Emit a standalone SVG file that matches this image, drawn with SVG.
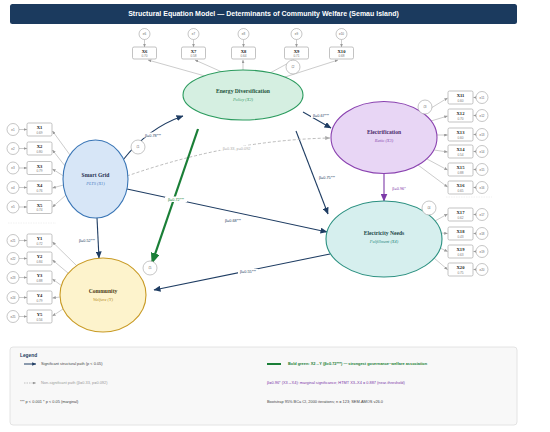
<svg xmlns="http://www.w3.org/2000/svg" width="550" height="432" viewBox="0 0 550 432">
<style>
.ind rect{fill:#fff;stroke:#9a9a9a;stroke-width:0.6}
.il{font-family:"Liberation Serif",serif;font-weight:bold;font-size:4.6px;fill:#222;text-anchor:middle}
.iv{font-family:"Liberation Sans",sans-serif;font-size:3.2px;fill:#777;text-anchor:middle}
.err circle{fill:#fff;stroke:#a0a0a0;stroke-width:0.6}
.el{font-family:"Liberation Sans",sans-serif;font-size:3px;fill:#666;text-anchor:middle}
.meas{stroke:#aaaaaa;stroke-width:0.6;fill:none;marker-end:url(#ag)}
.nl{font-family:"Liberation Serif",serif;font-weight:bold;font-size:5.6px;text-anchor:middle}
.ns{font-family:"Liberation Serif",serif;font-style:italic;font-size:4.4px;text-anchor:middle}
.sp{stroke:#1f3d63;stroke-width:1.1;fill:none;marker-end:url(#an)}
.pl{font-family:"Liberation Sans",sans-serif;font-size:3.8px;fill:#1f3d63;text-anchor:middle}
.lg{font-family:"Liberation Sans",sans-serif;font-size:3.9px}
.zeta circle{fill:#fff;stroke:#a0a0a0;stroke-width:0.6}
</style>
<defs>
<marker id="an" markerUnits="userSpaceOnUse" markerWidth="7" markerHeight="6" refX="6.5" refY="3" orient="auto"><path d="M0,0 L7,3 L0,6 z" fill="#1f3d63"/></marker>
<marker id="agr" markerUnits="userSpaceOnUse" markerWidth="11" markerHeight="9" refX="10" refY="4.5" orient="auto"><path d="M0,0 L11,4.5 L0,9 z" fill="#1a7f37"/></marker>
<marker id="ap" markerUnits="userSpaceOnUse" markerWidth="8" markerHeight="7" refX="7.5" refY="3.5" orient="auto"><path d="M0,0 L8,3.5 L0,7 z" fill="#7d3aa8"/></marker>
<marker id="ag" markerUnits="userSpaceOnUse" markerWidth="3.5" markerHeight="3" refX="3.3" refY="1.5" orient="auto"><path d="M0,0 L3.5,1.5 L0,3 z" fill="#999"/></marker>
<marker id="agd" markerUnits="userSpaceOnUse" markerWidth="5" markerHeight="4" refX="4.8" refY="2" orient="auto"><path d="M0,0 L5,2 L0,4 z" fill="#aaa"/></marker>
<marker id="anl" markerUnits="userSpaceOnUse" markerWidth="4" markerHeight="3.4" refX="3.8" refY="1.7" orient="auto"><path d="M0,0 L4,1.7 L0,3.4 z" fill="#1f3d63"/></marker>
</defs>

<rect x="0" y="0" width="550" height="432" fill="#ffffff"/>

<g id="title">
<rect x="10" y="4" width="507" height="20" rx="2.5" fill="#1b3a5e"/>
<text x="263.5" y="16.4" font-family="Liberation Sans,sans-serif" font-weight="bold" font-size="7" fill="#ffffff" text-anchor="middle">Structural Equation Model — Determinants of Community Welfare (Semau Island)</text>
</g>

<g id="dividers" stroke="#e2e2e2" stroke-width="0.5" stroke-dasharray="1.5,1">
<line x1="8" y1="223" x2="56" y2="223"/>
<line x1="446" y1="197" x2="492" y2="197"/>
</g>

<g id="measurement">
<path class="meas" d="M205,76 L148,60"/>
<path class="meas" d="M222,72 L195,60"/>
<path class="meas" d="M243,70 L243,60"/>
<path class="meas" d="M270,73 L294,60"/>
<path class="meas" d="M285,77 L338,60"/>
<path class="meas" d="M70,155 L52.5,131"/>
<path class="meas" d="M65,166 L52.5,150"/>
<path class="meas" d="M63.5,176 L52.5,169"/>
<path class="meas" d="M63.5,185 L52.5,188"/>
<path class="meas" d="M66,195 L52.5,207"/>
<path class="meas" d="M77,266 L52.5,242"/>
<path class="meas" d="M68,273 L52.5,260"/>
<path class="meas" d="M62,286 L52.5,279"/>
<path class="meas" d="M60,297 L52.5,298"/>
<path class="meas" d="M63,309 L52.5,316"/>
<path class="meas" d="M423,113 L447.5,98"/>
<path class="meas" d="M431,121 L447.5,116"/>
<path class="meas" d="M437,135 L447.5,135"/>
<path class="meas" d="M434,150 L447.5,152"/>
<path class="meas" d="M427,159 L447.5,170"/>
<path class="meas" d="M418,165 L447.5,187"/>
<path class="meas" d="M435,221 L447.5,214"/>
<path class="meas" d="M441,233 L447.5,233.5"/>
<path class="meas" d="M440,248 L447.5,251.5"/>
<path class="meas" d="M434,258 L447.5,269.5"/>
<path class="meas" d="M144.5,39.5 L144.5,47"/>
<path class="meas" d="M193.5,39.5 L193.5,47"/>
<path class="meas" d="M243.5,39.5 L243.5,47"/>
<path class="meas" d="M296.5,39.5 L296.5,47"/>
<path class="meas" d="M341.5,39.5 L341.5,47"/>
<path class="meas" d="M19,129.5 L27,129.5"/>
<path class="meas" d="M19,148.5 L27,148.5"/>
<path class="meas" d="M19,168 L27,168"/>
<path class="meas" d="M19,187.5 L27,187.5"/>
<path class="meas" d="M19,207 L27,207"/>
<path class="meas" d="M19,240.5 L27,240.5"/>
<path class="meas" d="M19,258.5 L27,258.5"/>
<path class="meas" d="M19,277.5 L27,277.5"/>
<path class="meas" d="M19,297.5 L27,297.5"/>
<path class="meas" d="M19,316.5 L27,316.5"/>
<path class="meas" d="M476,97.5 L473.5,97.5"/>
<path class="meas" d="M476,115.5 L473.5,115.5"/>
<path class="meas" d="M476,134.5 L473.5,134.5"/>
<path class="meas" d="M476,151.5 L473.5,151.5"/>
<path class="meas" d="M476,169.5 L473.5,169.5"/>
<path class="meas" d="M476,187.5 L473.5,187.5"/>
<path class="meas" d="M476,214.5 L473.5,214.5"/>
<path class="meas" d="M476,233.5 L473.5,233.5"/>
<path class="meas" d="M476,251.5 L473.5,251.5"/>
<path class="meas" d="M476,269.5 L473.5,269.5"/>
</g>

<g id="connectors">
<path class="sp" d="M123,160 Q148,128 183,116"/>
<path class="sp" d="M303,112 L331,128"/>
<path class="sp" d="M296,131 L328,214"/>
<path d="M127,176 Q230,140 330,138" stroke="#aaaaaa" stroke-width="0.8" stroke-dasharray="3,2" fill="none" marker-end="url(#agd)"/>
<path class="sp" d="M127,189 L327,232"/>
<path class="sp" d="M97,218 L99,258"/>
<path class="sp" d="M330,254 L154,290"/>
<path d="M384,173.5 L384,201" stroke="#7d3aa8" stroke-width="1.1" fill="none" marker-end="url(#ap)"/>
<path d="M198,129 L152,263" stroke="#1a7f37" stroke-width="2.2" fill="none" marker-end="url(#agr)"/>
</g>

<g id="path-labels">
<rect x="143" y="132.5" width="20" height="5" fill="#fff"/>
<text class="pl" x="153" y="136.5">β=0.78***</text>
<rect x="311" y="113" width="20" height="5" fill="#fff"/>
<text class="pl" x="321" y="117">β=0.67***</text>
<rect x="317" y="174.5" width="20" height="5" fill="#fff"/>
<text class="pl" x="327" y="178.5">β=0.75***</text>
<rect x="220" y="145.5" width="33" height="5" fill="#fff"/>
<text class="pl" x="236.5" y="149.5" style="fill:#aaaaaa">β=0.33, p=0.092</text>
<rect x="165" y="196.5" width="22" height="5.5" fill="#fff"/>
<text class="pl" x="176" y="200.8" style="fill:#1a7f37" font-size="4.2">β=0.72***</text>
<rect x="223" y="218" width="20" height="5" fill="#fff"/>
<text class="pl" x="233" y="222">β=0.68***</text>
<text class="pl" x="87" y="242">β=0.52***</text>
<rect x="238" y="269" width="20" height="5" fill="#fff"/>
<text class="pl" x="248" y="273">β=0.55***</text>
<text class="pl" x="399" y="189.5" style="fill:#7d3aa8">β=0.96*</text>
</g>

<g id="node-energy">
<ellipse cx="243" cy="95" rx="60" ry="25" fill="#d5efe1" stroke="#2b9b5e" stroke-width="1.1"/>
<text class="nl" x="243" y="93" fill="#22533a">Energy Diversification</text>
<text class="ns" x="243" y="101" fill="#3a9a6a">Policy (X2)</text>
</g>
<g id="node-smartgrid">
<ellipse cx="95.5" cy="179" rx="32.5" ry="39" fill="#d7e6f7" stroke="#3a76b6" stroke-width="1.1"/>
<text class="nl" x="95.5" y="177" fill="#1f3050">Smart Grid</text>
<text class="ns" x="95.5" y="185" fill="#4a80c4">PLTS (X1)</text>
</g>
<g id="node-community">
<ellipse cx="103" cy="295" rx="43" ry="37" fill="#fdf3cc" stroke="#c89a24" stroke-width="1.1"/>
<text class="nl" x="103" y="293" fill="#4a3a12">Community</text>
<text class="ns" x="103" y="301" fill="#b8902a">Welfare (Y)</text>
</g>
<g id="node-electrification">
<ellipse cx="384" cy="137.5" rx="53" ry="36" fill="#e8d6f5" stroke="#8a42b0" stroke-width="1.1"/>
<text class="nl" x="384" y="134" fill="#4a2a6a">Electrification</text>
<text class="ns" x="384" y="142" fill="#8a50b0">Ratio (X3)</text>
</g>
<g id="node-needs">
<ellipse cx="384" cy="239" rx="58" ry="38" fill="#d6efee" stroke="#2a9080" stroke-width="1.1"/>
<text class="nl" x="384" y="235" fill="#1e4a4a">Electricity Needs</text>
<text class="ns" x="384" y="243" fill="#2a8a80">Fulfillment (X4)</text>
</g>

<g id="zetas" class="zeta">
<circle cx="138" cy="147" r="7"/><text class="el" x="138" y="148">ζ1</text>
<circle cx="293" cy="67" r="7"/><text class="el" x="293" y="68">ζ2</text>
<circle cx="425" cy="107" r="7"/><text class="el" x="425" y="108">ζ3</text>
<circle cx="429" cy="208" r="7"/><text class="el" x="429" y="209">ζ4</text>
<circle cx="150" cy="268" r="7"/><text class="el" x="150" y="269">ζ5</text>
</g>

<g id="ind-X6" class="ind"><rect x="132.5" y="47" width="24" height="12" rx="1.5"/><text class="il" x="144.5" y="53">X6</text><text class="iv" x="144.5" y="57.3">0.70</text></g>
<g id="ind-X7" class="ind"><rect x="181.5" y="47" width="24" height="12" rx="1.5"/><text class="il" x="193.5" y="53">X7</text><text class="iv" x="193.5" y="57.3">0.58</text></g>
<g id="ind-X8" class="ind"><rect x="231.5" y="47" width="24" height="12" rx="1.5"/><text class="il" x="243.5" y="53">X8</text><text class="iv" x="243.5" y="57.3">0.64</text></g>
<g id="ind-X9" class="ind"><rect x="284.5" y="47" width="24" height="12" rx="1.5"/><text class="il" x="296.5" y="53">X9</text><text class="iv" x="296.5" y="57.3">0.71</text></g>
<g id="ind-X10" class="ind"><rect x="329.5" y="47" width="24" height="12" rx="1.5"/><text class="il" x="341.5" y="53">X10</text><text class="iv" x="341.5" y="57.3">0.68</text></g>

<g id="ind-X1" class="ind"><rect x="27" y="123" width="25" height="13" rx="1.5"/><text class="il" x="39.5" y="129.3">X1</text><text class="iv" x="39.5" y="133.8">0.69</text></g>
<g id="ind-X2" class="ind"><rect x="27" y="142" width="25" height="13" rx="1.5"/><text class="il" x="39.5" y="148.3">X2</text><text class="iv" x="39.5" y="152.8">0.80</text></g>
<g id="ind-X3" class="ind"><rect x="27" y="161.5" width="25" height="13" rx="1.5"/><text class="il" x="39.5" y="167.8">X3</text><text class="iv" x="39.5" y="172.3">0.79</text></g>
<g id="ind-X4" class="ind"><rect x="27" y="181" width="25" height="13" rx="1.5"/><text class="il" x="39.5" y="187.3">X4</text><text class="iv" x="39.5" y="191.8">0.76</text></g>
<g id="ind-X5" class="ind"><rect x="27" y="200.5" width="25" height="13" rx="1.5"/><text class="il" x="39.5" y="206.8">X5</text><text class="iv" x="39.5" y="211.3">0.74</text></g>

<g id="ind-Y1" class="ind"><rect x="27" y="234" width="25" height="13" rx="1.5"/><text class="il" x="39.5" y="240.3">Y1</text><text class="iv" x="39.5" y="244.8">0.72</text></g>
<g id="ind-Y2" class="ind"><rect x="27" y="252" width="25" height="13" rx="1.5"/><text class="il" x="39.5" y="258.3">Y2</text><text class="iv" x="39.5" y="262.8">0.84</text></g>
<g id="ind-Y3" class="ind"><rect x="27" y="271" width="25" height="13" rx="1.5"/><text class="il" x="39.5" y="277.3">Y3</text><text class="iv" x="39.5" y="281.8">0.88</text></g>
<g id="ind-Y4" class="ind"><rect x="27" y="291" width="25" height="13" rx="1.5"/><text class="il" x="39.5" y="297.3">Y4</text><text class="iv" x="39.5" y="301.8">0.79</text></g>
<g id="ind-Y5" class="ind"><rect x="27" y="310" width="25" height="13" rx="1.5"/><text class="il" x="39.5" y="316.3">Y5</text><text class="iv" x="39.5" y="320.8">0.56</text></g>

<g id="ind-X11" class="ind"><rect x="448" y="91" width="25" height="13" rx="1.5"/><text class="il" x="460.5" y="97.3">X11</text><text class="iv" x="460.5" y="101.8">0.60</text></g>
<g id="ind-X12" class="ind"><rect x="448" y="109" width="25" height="13" rx="1.5"/><text class="il" x="460.5" y="115.3">X12</text><text class="iv" x="460.5" y="119.8">0.70</text></g>
<g id="ind-X13" class="ind"><rect x="448" y="128" width="25" height="13" rx="1.5"/><text class="il" x="460.5" y="134.3">X13</text><text class="iv" x="460.5" y="138.8">0.60</text></g>
<g id="ind-X14" class="ind"><rect x="448" y="145" width="25" height="13" rx="1.5"/><text class="il" x="460.5" y="151.3">X14</text><text class="iv" x="460.5" y="155.8">0.54</text></g>
<g id="ind-X15" class="ind"><rect x="448" y="163" width="25" height="13" rx="1.5"/><text class="il" x="460.5" y="169.3">X15</text><text class="iv" x="460.5" y="173.8">0.88</text></g>
<g id="ind-X16" class="ind"><rect x="448" y="181" width="25" height="13" rx="1.5"/><text class="il" x="460.5" y="187.3">X16</text><text class="iv" x="460.5" y="191.8">0.65</text></g>

<g id="ind-X17" class="ind"><rect x="448" y="208" width="25" height="13" rx="1.5"/><text class="il" x="460.5" y="214.3">X17</text><text class="iv" x="460.5" y="218.8">0.62</text></g>
<g id="ind-X18" class="ind"><rect x="448" y="227" width="25" height="13" rx="1.5"/><text class="il" x="460.5" y="233.3">X18</text><text class="iv" x="460.5" y="237.8">0.43</text></g>
<g id="ind-X19" class="ind"><rect x="448" y="245" width="25" height="13" rx="1.5"/><text class="il" x="460.5" y="251.3">X19</text><text class="iv" x="460.5" y="255.8">0.63</text></g>
<g id="ind-X20" class="ind"><rect x="448" y="263" width="25" height="13" rx="1.5"/><text class="il" x="460.5" y="269.3">X20</text><text class="iv" x="460.5" y="273.8">0.75</text></g>

<g id="errors" class="err">
<circle cx="144.5" cy="34" r="5.5"/><text class="el" x="144.5" y="35">e6</text>
<circle cx="193.5" cy="34" r="5.5"/><text class="el" x="193.5" y="35">e7</text>
<circle cx="243.5" cy="34" r="5.5"/><text class="el" x="243.5" y="35">e8</text>
<circle cx="296.5" cy="34" r="5.5"/><text class="el" x="296.5" y="35">e9</text>
<circle cx="341.5" cy="34" r="5.5"/><text class="el" x="341.5" y="35">e10</text>
<circle cx="13" cy="129.5" r="6"/><text class="el" x="13" y="130.5">e1</text>
<circle cx="13" cy="148.5" r="6"/><text class="el" x="13" y="149.5">e2</text>
<circle cx="13" cy="168" r="6"/><text class="el" x="13" y="169">e3</text>
<circle cx="13" cy="187.5" r="6"/><text class="el" x="13" y="188.5">e4</text>
<circle cx="13" cy="207" r="6"/><text class="el" x="13" y="208">e5</text>
<circle cx="13" cy="240.5" r="6"/><text class="el" x="13" y="241.5">e21</text>
<circle cx="13" cy="258.5" r="6"/><text class="el" x="13" y="259.5">e22</text>
<circle cx="13" cy="277.5" r="6"/><text class="el" x="13" y="278.5">e23</text>
<circle cx="13" cy="297.5" r="6"/><text class="el" x="13" y="298.5">e24</text>
<circle cx="13" cy="316.5" r="6"/><text class="el" x="13" y="317.5">e25</text>
<circle cx="482" cy="97.5" r="6"/><text class="el" x="482" y="98.5">e11</text>
<circle cx="482" cy="115.5" r="6"/><text class="el" x="482" y="116.5">e12</text>
<circle cx="482" cy="134.5" r="6"/><text class="el" x="482" y="135.5">e13</text>
<circle cx="482" cy="151.5" r="6"/><text class="el" x="482" y="152.5">e14</text>
<circle cx="482" cy="169.5" r="6"/><text class="el" x="482" y="170.5">e15</text>
<circle cx="482" cy="187.5" r="6"/><text class="el" x="482" y="188.5">e16</text>
<circle cx="482" cy="214.5" r="6"/><text class="el" x="482" y="215.5">e17</text>
<circle cx="482" cy="233.5" r="6"/><text class="el" x="482" y="234.5">e18</text>
<circle cx="482" cy="251.5" r="6"/><text class="el" x="482" y="252.5">e19</text>
<circle cx="482" cy="269.5" r="6"/><text class="el" x="482" y="270.5">e20</text>
</g>

<g id="legend">
<rect x="10" y="347" width="507" height="78" rx="3" fill="#f8f8f8" stroke="#dddddd" stroke-width="0.8"/>
<text x="20" y="356.5" font-family="Liberation Sans,sans-serif" font-weight="bold" font-size="4.8" fill="#1b3a5e">Legend</text>
<line x1="24" y1="364" x2="36" y2="364" stroke="#1f3d63" stroke-width="1" marker-end="url(#anl)"/>
<text class="lg" x="41" y="365.3" fill="#444">Significant structural path (p &lt; 0.05)</text>
<line x1="24" y1="383" x2="36" y2="383" stroke="#aaaaaa" stroke-width="0.7" stroke-dasharray="1.5,1" marker-end="url(#ag)"/>
<text class="lg" x="41" y="384.3" fill="#999">Non-significant path (β=0.33, p=0.092)</text>
<text class="lg" x="20" y="403.3" fill="#444">*** p &lt; 0.001    * p &lt; 0.05 (marginal)</text>
<line x1="267" y1="364" x2="281" y2="364" stroke="#1a7f37" stroke-width="2"/>
<text class="lg" x="288" y="365.3" fill="#1a7f37" font-weight="bold">Bold green: X2→Y (β=0.72***) — strongest governance–welfare association</text>
<text class="lg" x="267" y="384.3" fill="#7d3aa8">β=0.96* (X3→X4): marginal significance; HTMT X3–X4 = 0.887 (near-threshold)</text>
<text class="lg" x="267" y="403.3" fill="#444">Bootstrap 95% BCa CI, 2000 iterations; n = 123; SEM-AMOS v26.0</text>
</g>
</svg>
